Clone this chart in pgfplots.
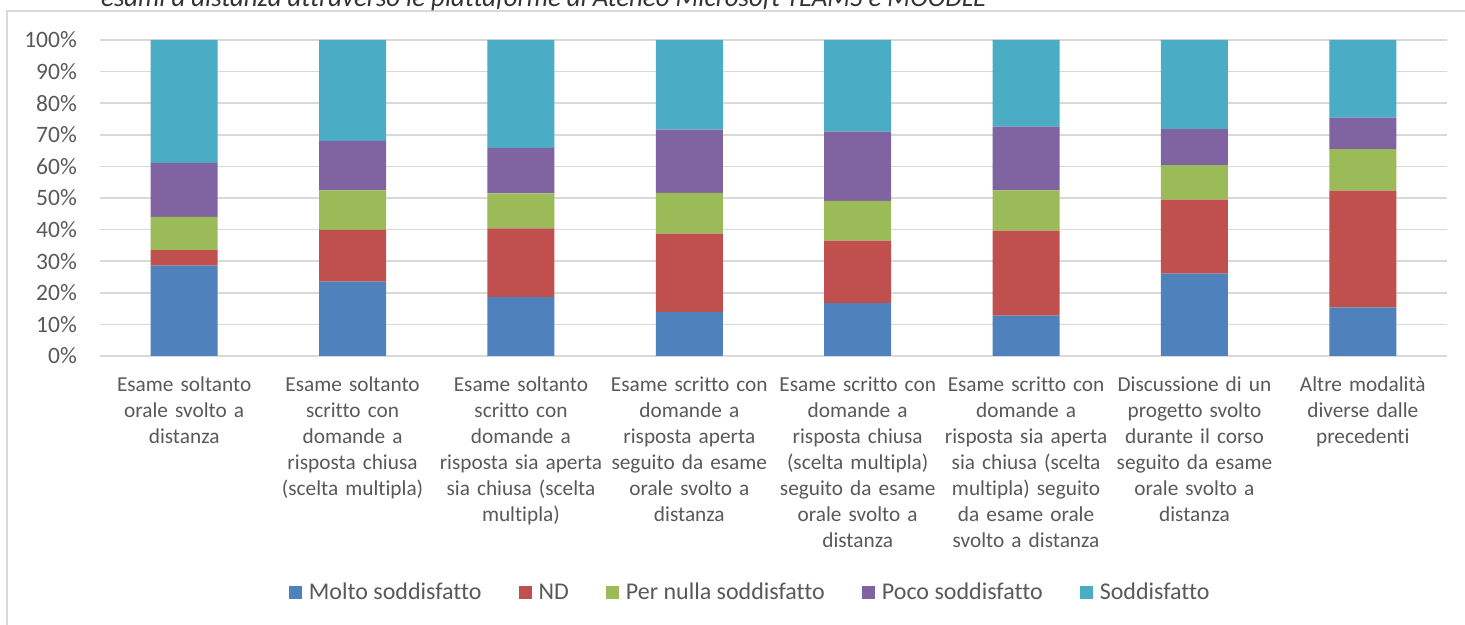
\documentclass[border=0pt]{standalone}
\usepackage{pgfplots}
\pgfplotsset{compat=1.18}
\usepackage{pgfplotstable}
\usepackage{fontspec}
\setmainfont{Carlito}[Ligatures=NoCommon]
\definecolor{cblue}{HTML}{4F81BD}
\definecolor{cred}{HTML}{C0504D}
\definecolor{cgreen}{HTML}{9BBB59}
\definecolor{cpurple}{HTML}{8064A2}
\definecolor{caqua}{HTML}{4BACC6}
\definecolor{txt}{HTML}{595959}
\definecolor{grd}{HTML}{D9D9D9}
\pgfplotsset{sqlegend/.style={legend image code/.code={\fill[##1] (0bp,-6.5bp) rectangle (13bp,6.5bp);}}}
\pgfplotstableread{
x molto nd nulla poco sodd
0 28.6 4.9 10.5 17.1 38.9
1 23.5 16.4 12.5 15.7 31.9
2 18.6 21.8 11.1 14.4 34.1
3 14.0 24.7 12.9 20.0 28.4
4 16.7 19.8 12.6 21.9 29.0
5 12.8 26.9 12.7 20.2 27.4
6 26.1 23.4 10.9 11.4 28.2
7 15.4 36.9 13.2 9.9 24.6
}\datatable
\begin{document}
\begin{tikzpicture}
\useasboundingbox (0,0) rectangle (1465bp,625bp);
\clip (0,0) rectangle (1465bp,625bp);
\fill[white] (0,0) rectangle (1465bp,625bp);
\draw[grd, line width=1.5bp] (7bp,-2bp) -- (7bp,614bp) -- (1470bp,614bp);
\node[anchor=base west, inner sep=0pt, font=\itshape\fontsize{26.8bp}{32bp}\selectfont, text=black!80] at (101bp,618bp) {esami a distanza attraverso le piattaforme di Ateneo Microsoft TEAMS e MOODLE};
\begin{axis}[
  at={(100bp,269bp)}, anchor=south west,
  scale only axis, width=1347bp, height=316bp,
  xmin=-0.5, xmax=7.5, ymin=0, ymax=100,
  ybar stacked, bar width=67bp,
  axis line style={draw=none}, major tick length=0pt,
  ymajorgrids, grid style={grd, line width=1.5bp},
  ytick={0,10,...,100},
  yticklabel={\pgfmathprintnumber{\tick}\%},
  /pgf/number format/assume math mode=true,
  yticklabel style={anchor=east, inner sep=0pt, xshift=-23bp, font=\fontsize{23.5bp}{28bp}\selectfont, text=txt},
  xtick={0,1,2,3,4,5,6,7},
  xticklabels={
    {Esame soltanto\\orale svolto a\\distanza},
    {Esame soltanto\\scritto con\\domande a\\risposta chiusa\\(scelta multipla)},
    {Esame soltanto\\scritto con\\domande a\\risposta sia aperta\\sia chiusa (scelta\\multipla)},
    {Esame scritto con\\domande a\\risposta aperta\\seguito da esame\\orale svolto a\\distanza},
    {Esame scritto con\\domande a\\risposta chiusa\\(scelta multipla)\\seguito da esame\\orale svolto a\\distanza},
    {Esame scritto con\\domande a\\risposta sia aperta\\sia chiusa (scelta\\multipla) seguito\\da esame orale\\svolto a distanza},
    {Discussione di un\\progetto svolto\\durante il corso\\seguito da esame\\orale svolto a\\distanza},
    {Altre modalità\\diverse dalle\\precedenti}},
  xticklabel style={anchor=north, inner sep=0pt, yshift=-21bp, text width=170bp, align=center, font=\fontsize{21.3bp}{25.9bp}\selectfont, text=txt},
  legend columns=5,
  legend style={draw=none, fill=none, at={(axis description cs:0.482,-0.747)}, anchor=center,
    font=\fontsize{24bp}{28bp}\selectfont, text=txt,
    nodes={inner sep=0pt},
    /tikz/every odd column/.append style={column sep=7bp},
    /tikz/every even column/.append style={column sep=37bp}},
]
\addplot[fill=cblue, draw=none, sqlegend] table[x=x, y=molto] {\datatable};
\addlegendentry{Molto soddisfatto}
\addplot[fill=cred, draw=none, sqlegend] table[x=x, y=nd] {\datatable};
\addlegendentry{ND}
\addplot[fill=cgreen, draw=none, sqlegend] table[x=x, y=nulla] {\datatable};
\addlegendentry{Per nulla soddisfatto}
\addplot[fill=cpurple, draw=none, sqlegend] table[x=x, y=poco] {\datatable};
\addlegendentry{Poco soddisfatto}
\addplot[fill=caqua, draw=none, sqlegend] table[x=x, y=sodd] {\datatable};
\addlegendentry{Soddisfatto}
\end{axis}
\end{tikzpicture}
\end{document}
